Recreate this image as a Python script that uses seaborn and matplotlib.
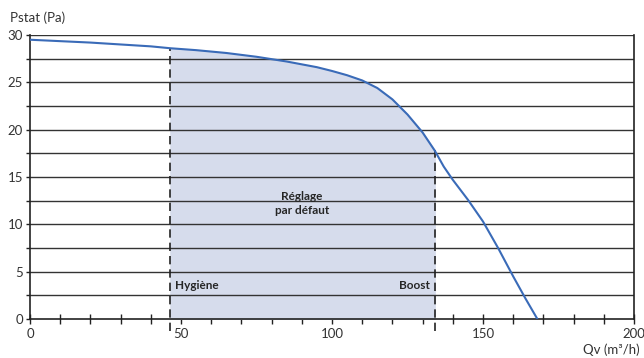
import matplotlib
matplotlib.use('Agg')
import matplotlib.pyplot as plt
import seaborn as sb
import pandas as pd
import numpy as np

# courbe débit / pression
qv = [0, 10, 20, 30, 40, 46.5, 55, 65, 75, 85, 95, 100, 105, 110, 115, 120, 125, 130, 134, 137, 140, 145, 150, 155, 160, 164, 168]
pstat = [29.5, 29.35, 29.2, 29.0, 28.8, 28.6, 28.4, 28.1, 27.7, 27.2, 26.6, 26.2, 25.75, 25.2, 24.4, 23.2, 21.6, 19.7, 17.8, 16.1, 14.7, 12.6, 10.3, 7.5, 4.5, 2.2, 0]

hygiene = 46.5
boost = 134
zone_labels = ['Hygiène', 'Boost', 'Réglage\npar défaut']

df = pd.DataFrame({'Qv': qv, 'Pstat': pstat})

sb.set_style('white')
plt.rcParams['font.family'] = ['Lato', 'DejaVu Sans']

fig = plt.figure(figsize=(6.44, 3.58), dpi=100)
ax = fig.add_axes([30/644, 1-319/358, 604/644, 284/358])

# zone de réglage
zone = df[(df.Qv >= hygiene) & (df.Qv <= boost)]
ax.fill_between(zone.Qv, 0, zone.Pstat, color='#d6dcec', zorder=1)

for y in np.arange(2.5, 30.1, 2.5):
    ax.axhline(y, color='#333333', lw=1, zorder=2)

sb.lineplot(data=df, x='Qv', y='Pstat', color='#3a6bb8', lw=1.5, ax=ax, zorder=4)

for x in (hygiene, boost):
    yv = np.interp(x, qv, pstat)
    ax.plot([x, x], [-1.3, yv], color='#222222', lw=1.2, ls=(0, (5, 3)), zorder=3, clip_on=False)

ax.text(hygiene + 1.5, 3.5, zone_labels[0], fontsize=8.5, fontweight='bold', va='center', ha='left', zorder=5)
ax.text(boost - 1.5, 3.5, zone_labels[1], fontsize=8.5, fontweight='bold', va='center', ha='right', zorder=5)
ax.text(90, 12.2, zone_labels[2], fontsize=8.5, fontweight='bold', va='center', ha='center', zorder=5, linespacing=1.3)

ax.set_xlim(0, 200)
ax.set_ylim(0, 30)
ax.set_xticks([0, 50, 100, 150, 200])
ax.set_xticks(np.arange(0, 201, 10), minor=True)
ax.set_yticks([0, 5, 10, 15, 20, 25, 30])
ax.set_yticks(np.arange(0, 30.1, 2.5), minor=True)
ax.tick_params(axis='x', which='both', bottom=True, direction='inout', length=7, width=1, color='#222222', labelsize=9.5, labelcolor='#333333', pad=3)
ax.tick_params(axis='y', which='both', left=True, direction='out', length=3, width=1, color='#222222', labelsize=9.5, labelcolor='#333333', pad=2)
ax.set_xlabel('')
ax.set_ylabel('')

for s in ('left', 'bottom', 'right'):
    ax.spines[s].set_color('#222222')
    ax.spines[s].set_linewidth(1.2)
ax.spines['top'].set_visible(False)

fig.text(10/644, 1-18/358, 'Pstat (Pa)', fontsize=9.5, color='#333333', va='center', ha='left')
fig.text(640/644, 1-350/358, 'Qv (m³/h)', fontsize=9.5, color='#333333', va='center', ha='right')

fig.savefig('out.png', dpi=100)
